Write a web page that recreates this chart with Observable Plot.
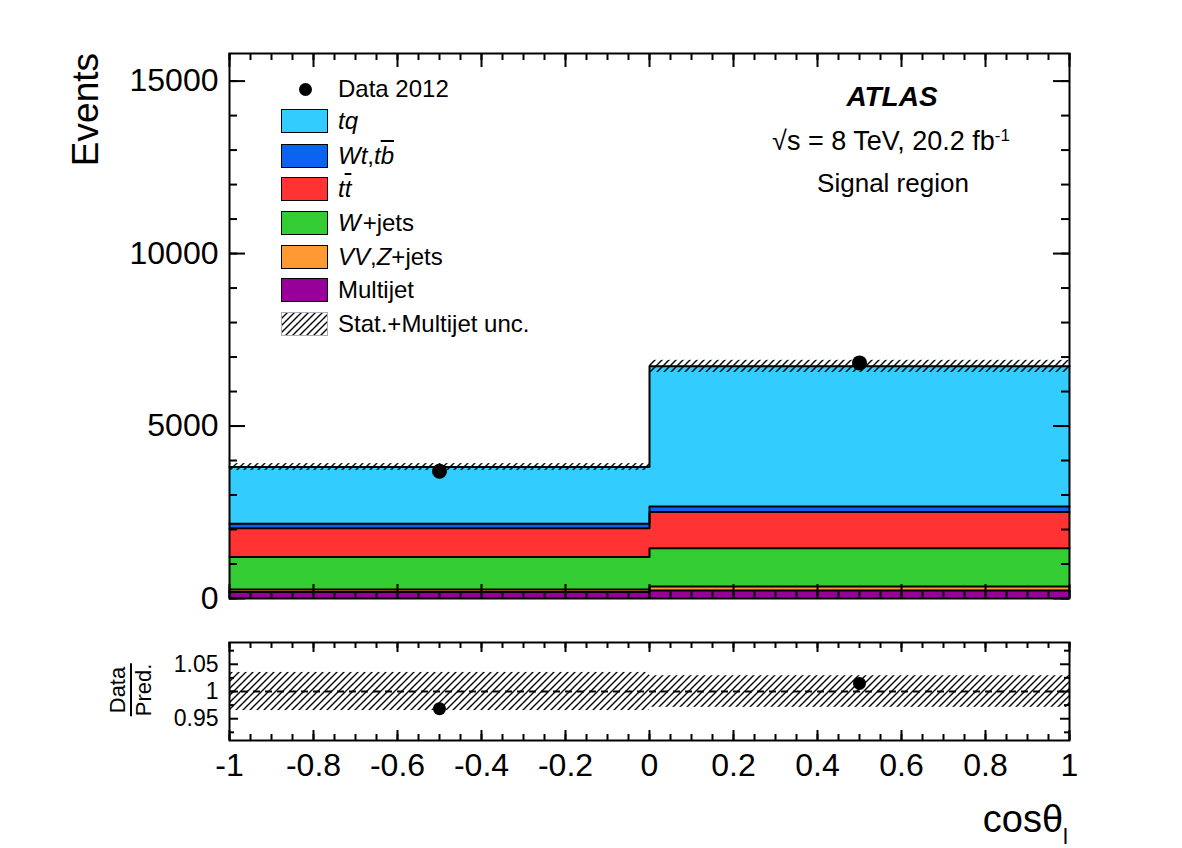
<!DOCTYPE html>
<html>
<head>
<meta charset="utf-8">
<script src="https://cdn.jsdelivr.net/npm/d3@7"></script>
<script src="https://cdn.jsdelivr.net/npm/@observablehq/plot@0.6"></script>
<style>
  body { margin: 0; background: #fff; }
  #wrap { position: relative; width: 1182px; height: 848px; background: #fff; overflow: hidden;
          font-family: "Liberation Sans", Arial, Helvetica, sans-serif; color: #000; }
  .abs { position: absolute; white-space: nowrap; line-height: 1; }
  .ov { text-decoration: overline; text-decoration-thickness: 2px; }
  svg.plt { position: absolute; left: 0; }
</style>
</head>
<body>
<div id="wrap">
  <svg width="0" height="0" style="position:absolute">
    <defs>
      <pattern id="hatch" patternUnits="userSpaceOnUse" width="7" height="7">
        <path d="M-1,1 L1,-1 M0,7 L7,0 M6,8 L8,6" stroke="#000" stroke-width="1.4"/>
      </pattern>
    </defs>
  </svg>
</div>
<script>
// ---------------- data ----------------
const binEdges = [-1, 0, 1];
const data2012 = [3690, 6830];
// stack, bottom to top
const multijet = [190, 230];
const vvZJets  = [70, 120];
const wJets    = [940, 1110];
const ttbar    = [840, 1045];
const wtTb     = [130, 165];
const tq       = [1640, 4060];
const uncMain  = [100, 175];     // band half-width in events
const uncRatio = [0.035, 0.029]; // band half-width in ratio panel

const procNames  = ["Multijet", "VV,Z+jets", "W+jets", "ttbar", "Wt,tb", "tq"];
const procValues = [multijet, vvZJets, wJets, ttbar, wtTb, tq];
const procColors = ["#990099", "#ff9933", "#33cc33", "#ff3333", "#0a64f0", "#33ccff"];

const xMajor = [-1, -0.8, -0.6, -0.4, -0.2, 0, 0.2, 0.4, 0.6, 0.8, 1];
const xMinor = d3.range(-1, 1.0001, 0.05).map(v => +v.toFixed(2));
const yMajor = [0, 5000, 10000, 15000];
const yMinor = d3.range(0, 15001, 1000);
const rMajor = [0.95, 1, 1.05];
const rMinor = [0.925, 0.975, 1.025, 1.075];

// legend
const legendLabels = [
  "<i>tq</i>",
  "<i>Wt</i>,<i>t<span class='ov'>b</span></i>",
  "<i>t<span class='ov'>t</span></i>",
  "<i>W</i>&#8202;+jets",
  "<i>VV</i>,<i>Z</i>+jets",
  "Multijet",
  "Stat.+Multijet unc."
];
const legendColors = ["#33ccff", "#0a64f0", "#ff3333", "#33cc33", "#ff9933", "#990099", null];

// ---------------- derived tables ----------------
const nb = binEdges.length - 1;
const stackRows = [], stepRows = [];
const cum = new Array(nb).fill(0);
procNames.forEach((p, k) => {
  for (let i = 0; i < nb; i++) {
    stackRows.push({proc: p, x1: binEdges[i], x2: binEdges[i+1], y1: cum[i], y2: cum[i] + procValues[k][i], fill: procColors[k]});
    cum[i] += procValues[k][i];
  }
  for (let i = 0; i < nb; i++) stepRows.push({proc: p, x: binEdges[i], y: cum[i]});
  stepRows.push({proc: p, x: binEdges[nb], y: cum[nb-1]});
});
const total = cum.slice();
const bandRows = total.map((t, i) => ({x1: binEdges[i], x2: binEdges[i+1], y1: t - uncMain[i], y2: t + uncMain[i]}));
const dataRows = data2012.map((v, i) => ({x: (binEdges[i] + binEdges[i+1]) / 2, y: v}));
const ratioRows = data2012.map((v, i) => ({x: (binEdges[i] + binEdges[i+1]) / 2, y: v / total[i]}));
const ratioBand = uncRatio.map((u, i) => ({x1: binEdges[i], x2: binEdges[i+1], y1: 1 - u, y2: 1 + u}));

// ---------------- layout ----------------
const W = 1182, mL = 229, mR = 113;
const mainH = 610, mT = 53, mB = 12;
const innerW = W - mL - mR, innerMain = mainH - mT - mB;
const rH = 238, rT = 32, rB = 108;
const innerR = rH - rT - rB;
const font = "'Liberation Sans', Arial, Helvetica, sans-serif";

function ticksX(vals, len, H) {
  return [
    Plot.tickX(vals, {x: d => d, insetTop: H - len, stroke: "black", strokeWidth: 2}),
    Plot.tickX(vals, {x: d => d, insetBottom: H - len, stroke: "black", strokeWidth: 2})
  ];
}
function ticksY(vals, len) {
  return [
    Plot.tickY(vals, {y: d => d, insetRight: innerW - len, stroke: "black", strokeWidth: 2}),
    Plot.tickY(vals, {y: d => d, insetLeft: innerW - len, stroke: "black", strokeWidth: 2})
  ];
}

const main = Plot.plot({
  width: W, height: mainH,
  marginLeft: mL, marginRight: mR, marginTop: mT, marginBottom: mB,
  style: {fontFamily: font, fontSize: "32px", background: "transparent", color: "black", overflow: "visible"},
  x: {domain: [-1, 1], axis: null},
  y: {domain: [0, 15800], axis: null},
  color: {type: "identity"},
  marks: [
    Plot.rect(stackRows, {x1: "x1", x2: "x2", y1: "y1", y2: "y2", fill: "fill"}),
    Plot.rect(bandRows, {x1: "x1", x2: "x2", y1: "y1", y2: "y2", fill: "url(#hatch)"}),
    Plot.line(stepRows, {x: "x", y: "y", z: "proc", curve: "step-after", stroke: "black", strokeWidth: 2}),
    Plot.dot(dataRows, {x: "x", y: "y", r: 7.5, fill: "black"}),
    ...ticksX(xMinor, 7, innerMain),
    ...ticksX(xMajor, 14, innerMain),
    ...ticksY(yMinor, 8),
    ...ticksY(yMajor, 16),
    Plot.axisY(yMajor, {tickSize: 0, tickPadding: 11, tickFormat: d => String(d), fontSize: 32}),
    Plot.frame({stroke: "black", strokeWidth: 2})
  ]
});
main.classList.add("plt");
main.style.top = "0px";

const ratio = Plot.plot({
  width: W, height: rH,
  marginLeft: mL, marginRight: mR, marginTop: rT, marginBottom: rB,
  style: {fontFamily: font, fontSize: "32px", background: "transparent", color: "black", overflow: "visible"},
  x: {domain: [-1, 1], axis: null},
  y: {domain: [0.91, 1.09], axis: null},
  marks: [
    Plot.rect(ratioBand, {x1: "x1", x2: "x2", y1: "y1", y2: "y2", fill: "url(#hatch)"}),
    Plot.ruleY([1], {stroke: "black", strokeWidth: 2, strokeDasharray: "7,5"}),
    Plot.dot(ratioRows, {x: "x", y: "y", r: 6.5, fill: "black"}),
    ...ticksX(xMinor, 6, innerR),
    ...ticksX(xMajor, 10, innerR),
    ...ticksY(rMinor, 5),
    ...ticksY(rMajor, 9),
    Plot.axisX(xMajor, {tickSize: 0, tickPadding: 13, tickFormat: d => String(Math.round(d * 10) / 10), fontSize: 32}),
    Plot.axisY(rMajor, {tickSize: 0, tickPadding: 11, tickFormat: d => d === 1 ? "1" : d.toFixed(2), fontSize: 23}),
    Plot.frame({stroke: "black", strokeWidth: 2})
  ]
});
ratio.classList.add("plt");
ratio.style.top = mainH + "px";

const wrap = document.getElementById("wrap");
wrap.appendChild(main);
wrap.appendChild(ratio);

// ---------------- text overlays ----------------
function addDiv(html, css) {
  const d = document.createElement("div");
  d.className = "abs";
  d.innerHTML = html;
  Object.assign(d.style, css);
  wrap.appendChild(d);
  return d;
}

// legend
addDiv("", {left: "299px", top: "83px", width: "13px", height: "13px", borderRadius: "50%", background: "#000"});
addDiv("Data 2012", {left: "338px", top: "89px", fontSize: "24px", transform: "translateY(-50%)"});
const rowY = [121, 156, 189, 223, 257, 290, 324];
legendLabels.forEach((lab, i) => {
  const y = rowY[i];
  if (legendColors[i]) {
    addDiv("", {left: "281px", top: (y - 12) + "px", width: "45px", height: "22px", background: legendColors[i], border: "1px solid #000"});
  } else {
    addDiv("<svg width='47' height='24'><rect x='0.5' y='0.5' width='46' height='23' fill='url(#hatch)' stroke='#aab' stroke-width='1'/></svg>",
      {left: "281px", top: (y - 12) + "px", lineHeight: "0"});
  }
  addDiv(lab, {left: "338px", top: y + "px", fontSize: "24px", transform: "translateY(-50%)"});
});

// annotations
addDiv("<b><i>ATLAS</i></b>", {left: "892px", top: "97px", fontSize: "28px", transform: "translate(-50%,-50%)"});
addDiv("&radic;s = 8 TeV, 20.2 fb<sup style='font-size:17px;vertical-align:9px'>-1</sup>", {left: "891px", top: "141px", fontSize: "27px", transform: "translate(-50%,-50%)"});
addDiv("Signal region", {left: "893px", top: "183px", fontSize: "26px", transform: "translate(-50%,-50%)"});

// axis titles
addDiv("Events", {left: "85px", top: "53px", fontSize: "37px", transformOrigin: "0 0",
  transform: "rotate(-90deg) translate(-100%,-50%)"});
addDiv("cos&theta;<sub style='font-size:22px;vertical-align:-12px'>l</sub>",
  {right: (W - 1068) + "px", top: "800px", fontSize: "38px"});
addDiv("<div style='text-align:center;line-height:1'><div style='border-bottom:2px solid #000;padding:0 1px 1px'>Data</div><div style='padding-top:1px'>Pred.</div></div>",
  {left: "131px", top: "690px", fontSize: "22px", transform: "translate(-50%,-50%) rotate(-90deg)"});
</script>
</body>
</html>
